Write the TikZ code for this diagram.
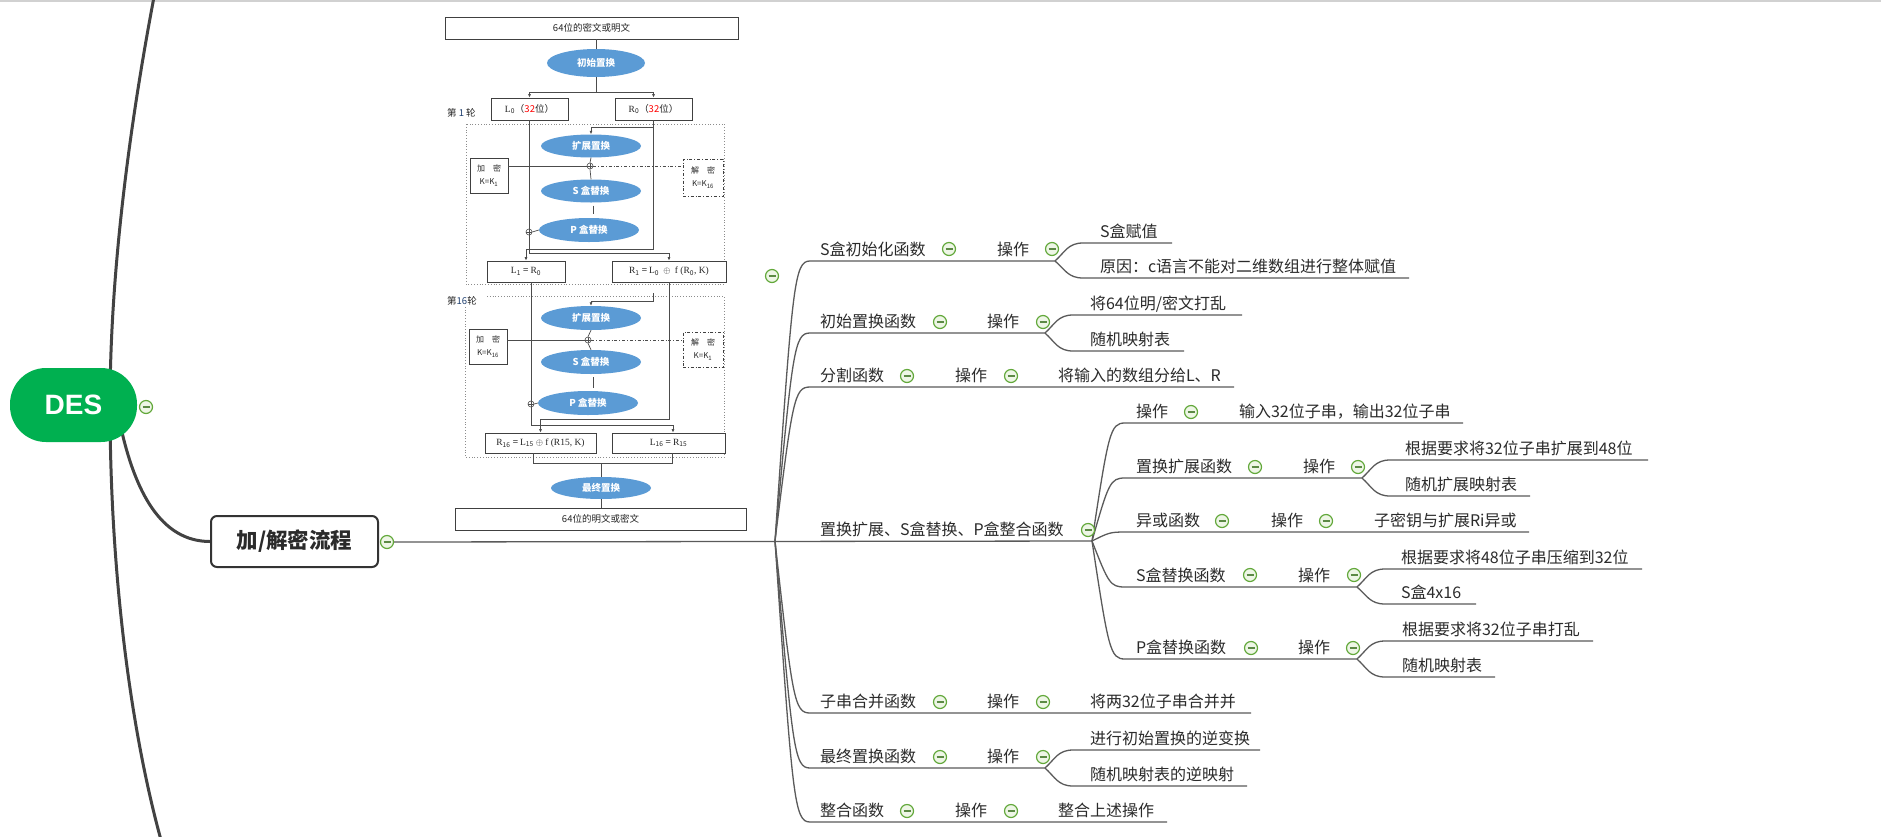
\documentclass[tikz,border=0pt]{standalone}
\usepackage{fontspec}
\setmainfont{Noto Sans CJK SC}
\newfontfamily\desfont{Liberation Sans}
\newfontfamily\serifx{Liberation Serif}
\usetikzlibrary{shapes.geometric,arrows.meta}
\definecolor{linec}{HTML}{5A5A5A}
\definecolor{thickc}{HTML}{424242}
\definecolor{textc}{HTML}{2B2B2B}
\definecolor{desg}{HTML}{00B050}
\definecolor{togc}{HTML}{62A83A}
\definecolor{togf}{HTML}{EEF6E6}
\definecolor{togm}{HTML}{5C8A45}
\definecolor{ellc}{HTML}{5B9BD5}
\definecolor{boxc}{HTML}{333333}
\definecolor{roundc}{HTML}{1F3F6F}
\newcommand\mmbr[5]{%
  \draw[conn] (#1,#2) .. controls ({#1+0.5*#4},{#3+0.08*(#2-#3)}) and ({#1+0.55*#4},#3) .. ({#1+#4},#3) -- (#5,#3);}
\newcommand\mmleaf[4]{%
  \draw[conn] (#1,#2) .. controls ({#1+10},{#2+0.5*(#3-#2)}) and ({#1+13},#3) .. ({#1+28},#3) -- (#4,#3);}
\begin{document}
\begin{tikzpicture}[x=1pt,y=-1pt,
  conn/.style={draw=linec, line width=1.3pt},
  thickconn/.style={draw=thickc, line width=3pt},
  txt/.style={anchor=base west, inner sep=0pt, outer sep=0pt, text=textc, font=\fontsize{16}{19}\selectfont},
  tog/.style={circle, draw=togc, fill=togf, line width=1.2pt, minimum size=13pt, inner sep=0pt,
     path picture={\draw[togm, line width=1.3pt] ([xshift=-3.5pt]path picture bounding box.center) -- ([xshift=3.5pt]path picture bounding box.center);}},
  fbox/.style={draw=black!75, line width=0.7pt, fill=white, inner sep=0pt, text=black!85, font=\fontsize{9.5}{11}\selectfont},
  fell/.style={ellipse, fill=ellc, minimum width=100pt, minimum height=24pt, inner sep=0pt, text=white, font=\fontsize{9.5}{11}\selectfont\bfseries},
  fl/.style={draw=black!70, line width=0.7pt},
  fa/.style={fl, -{Latex[length=3.5pt,width=3pt]}},
  dotbox/.style={draw=black!45, line width=0.8pt, dotted},
  ddbox/.style={fbox, dash dot},
  xorc/.style={circle, draw=black!70, fill=white, line width=0.6pt, minimum size=6pt, inner sep=0pt,
     path picture={\draw[black!70, line width=0.5pt] (path picture bounding box.north) -- (path picture bounding box.south) (path picture bounding box.west) -- (path picture bounding box.east);}},
  lab/.style={anchor=west, inner sep=0pt, font=\fontsize{9.5}{11}\selectfont, text=black!85},
]
\useasboundingbox (0,0) rectangle (1881,836);
\fill[white] (0,0) rectangle (1881,836);
\fill[black!18] (0,0) rectangle (1881,1.5);

% ---------- root and main curves ----------
\draw[thickconn] (154,-3) .. controls (125,150) and (110,290) .. (110,405) .. controls (110,560) and (128,720) .. (161,840);
\coordinate (dsout) at (121,428);
\node[draw=boxc, line width=2pt, rounded corners=6pt, fill=white, minimum width=167pt, minimum height=51pt, inner sep=0pt,
      font=\fontsize{21.5}{24}\selectfont\bfseries, text=textc] (flow) at (294.5,541.5) {加/解密流程};
\draw[thickconn] (dsout) .. controls (135,490) and (160,541.5) .. (flow.west);
\node[fill=desg, rounded corners=36pt, minimum width=127pt, minimum height=74pt, inner sep=0pt, text=white,
      font=\desfont\bfseries\fontsize{28}{30}\selectfont] (des) at (73.5,405) {DES};
\node[tog] (tgdes) at (146,407) {};
\node[tog] (tgflow) at (387,542) {};
\coordinate (J0) at (775,541);
\coordinate (K4) at (1092,541);
\draw[conn] (tgflow.east) -- (K4);

% ---------- level 2 branches ----------
\mmbr{775}{541}{261}{35}{1055}
\mmbr{775}{541}{333}{35}{1045}
\mmbr{775}{541}{387}{35}{1234}
\mmbr{775}{541}{713}{35}{1251}
\mmbr{775}{541}{768}{35}{1045}
\mmbr{775}{541}{822}{35}{1167}
% ---------- level 3 branches ----------
\mmbr{1092}{541}{423}{33}{1463}
\mmbr{1092}{541}{478}{33}{1362}
\mmbr{1092}{541}{532}{33}{1529}
\mmbr{1092}{541}{587}{33}{1357}
\mmbr{1092}{541}{659}{33}{1357}
% ---------- leaf pairs ----------
\mmleaf{1055}{261}{243}{1172}
\mmleaf{1055}{261}{278}{1409}
\mmleaf{1045}{333}{315}{1242}
\mmleaf{1045}{333}{351}{1184}
\mmleaf{1362}{478}{460}{1648}
\mmleaf{1362}{478}{496}{1530}
\mmleaf{1357}{587}{569}{1642}
\mmleaf{1357}{587}{604}{1476}
\mmleaf{1357}{659}{641}{1593}
\mmleaf{1357}{659}{677}{1495}
\mmleaf{1045}{768}{750}{1260}
\mmleaf{1045}{768}{786}{1247}

\node[tog] (tglone) at (772,276) {};

% S盒初始化函数
\node[txt] (a1) at (820,255) {S盒初始化函数};
\node[tog] (a1t) at (949,249) {};
\node[txt] (a1o) at (997,255) {操作};
\node[tog] (a1ot) at (1052,249) {};
\node[txt] (a1l1) at (1100,237) {S盒赋值};
\node[txt] (a1l2) at (1100,272) {原因：c语言不能对二维数组进行整体赋值};
% 初始置换函数
\node[txt] (a2) at (820,327) {初始置换函数};
\node[tog] (a2t) at (940,322) {};
\node[txt] (a2o) at (987,327) {操作};
\node[tog] (a2ot) at (1043,322) {};
\node[txt] (a2l1) at (1090,309) {将64位明/密文打乱};
\node[txt] (a2l2) at (1090,345) {随机映射表};
% 分割函数
\node[txt] (a3) at (820,381) {分割函数};
\node[tog] (a3t) at (907,376) {};
\node[txt] (a3o) at (955,381) {操作};
\node[tog] (a3ot) at (1011,376) {};
\node[txt] (a3l) at (1058,381) {将输入的数组分给L、R};
% 置换扩展、S盒替换、P盒整合函数
\node[txt] (a4) at (820,535) {置换扩展、S盒替换、P盒整合函数};
\node[tog] (a4t) at (1088,530) {};
\node[txt] (b1) at (1136,417) {操作};
\node[tog] (b1t) at (1191,412) {};
\node[txt] (b1l) at (1239,417) {输入32位子串，输出32位子串};
\node[txt] (b2) at (1136,472) {置换扩展函数};
\node[tog] (b2t) at (1255,467) {};
\node[txt] (b2o) at (1303,472) {操作};
\node[tog] (b2ot) at (1358,467) {};
\node[txt] (b2l1) at (1405,454) {根据要求将32位子串扩展到48位};
\node[txt] (b2l2) at (1405,490) {随机扩展映射表};
\node[txt] (b3) at (1136,526) {异或函数};
\node[tog] (b3t) at (1222,521) {};
\node[txt] (b3o) at (1271,526) {操作};
\node[tog] (b3ot) at (1326,521) {};
\node[txt] (b3l) at (1374,526) {子密钥与扩展Ri异或};
\node[txt] (b4) at (1136,581) {S盒替换函数};
\node[tog] (b4t) at (1250,575) {};
\node[txt] (b4o) at (1298,581) {操作};
\node[tog] (b4ot) at (1354,575) {};
\node[txt] (b4l1) at (1401,563) {根据要求将48位子串压缩到32位};
\node[txt] (b4l2) at (1401,598) {S盒4x16};
\node[txt] (b5) at (1136,653) {P盒替换函数};
\node[tog] (b5t) at (1251,648) {};
\node[txt] (b5o) at (1298,653) {操作};
\node[tog] (b5ot) at (1353,648) {};
\node[txt] (b5l1) at (1402,635) {根据要求将32位子串打乱};
\node[txt] (b5l2) at (1402,671) {随机映射表};
% 子串合并函数
\node[txt] (a5) at (820,707) {子串合并函数};
\node[tog] (a5t) at (940,702) {};
\node[txt] (a5o) at (987,707) {操作};
\node[tog] (a5ot) at (1043,702) {};
\node[txt] (a5l) at (1090,707) {将两32位子串合并并};
% 最终置换函数
\node[txt] (a6) at (820,762) {最终置换函数};
\node[tog] (a6t) at (940,757) {};
\node[txt] (a6o) at (987,762) {操作};
\node[tog] (a6ot) at (1043,757) {};
\node[txt] (a6l1) at (1090,744) {进行初始置换的逆变换};
\node[txt] (a6l2) at (1090,780) {随机映射表的逆映射};
% 整合函数
\node[txt] (a7) at (820,816) {整合函数};
\node[tog] (a7t) at (907,811) {};
\node[txt] (a7o) at (955,816) {操作};
\node[tog] (a7ot) at (1011,811) {};
\node[txt] (a7l) at (1058,816) {整合上述操作};

% ---------- DES flow chart ----------
\draw[dotbox] (466,124) rectangle (724,284);
\draw[dotbox] (487,296) -- (724,296) -- (724,457) -- (465,457) -- (465,306);
\node[fbox, minimum width=293pt, minimum height=22pt] (top) at (591.5,28) {64位的密文或明文};
\node[fell, minimum width=98pt, minimum height=28pt] (e0) at (596,63) {初始置换};
\node[fbox, minimum width=77pt, minimum height=22pt] (L0) at (529.5,109) {{\serifx L}\textsubscript{0}（\textcolor{red}{32}位）};
\node[fbox, minimum width=77pt, minimum height=22pt] (R0) at (653.5,109) {{\serifx R}\textsubscript{0}（\textcolor{red}{32}位）};
\node[lab] (lab1) at (447,113) {第 \textcolor{roundc}{1} 轮};
\node[fell, minimum height=23pt] (e1x) at (591,146) {扩展置换};
\node[fbox, minimum width=38pt, minimum height=35pt, align=center, font=\fontsize{8}{13}\selectfont] (k1) at (489,175.5) {加\quad 密\\K=K\textsubscript{1}};
\node[xorc] (x1) at (590,166) {};
\node[ddbox, minimum width=40pt, minimum height=37pt, align=center, font=\fontsize{8}{13}\selectfont] (d1) at (703,177.5) {解\quad 密\\K=K\textsubscript{16}};
\node[fell, minimum height=23pt] (e1s) at (591,191) {S 盒替换};
\node[fell] (e1p) at (589,230) {P 盒替换};
\node[xorc] (p1) at (529,232) {};
\node[fbox, minimum width=78pt, minimum height=21pt] (L1) at (526,271.5) {{\serifx L}\textsubscript{1} = {\serifx R}\textsubscript{0}};
\node[fbox, minimum width=114pt, minimum height=21pt] (R1) at (669,271.5) {{\serifx R}\textsubscript{1} = {\serifx L}\textsubscript{0} \ $\oplus$ \ {\serifx f (R}\textsubscript{0}{\serifx , K)}};
\node[lab] (lab16) at (447,301) {第\textcolor{roundc}{16}轮};
\node[fell] (e16x) at (591,318) {扩展置换};
\node[fbox, minimum width=38pt, minimum height=35pt, align=center, font=\fontsize{8}{13}\selectfont] (k16) at (488,346.5) {加\quad 密\\K=K\textsubscript{16}};
\node[xorc] (x16) at (588,340) {};
\node[ddbox, minimum width=40pt, minimum height=35pt, align=center, font=\fontsize{8}{13}\selectfont] (d16) at (703,349.5) {解\quad 密\\K=K\textsubscript{1}};
\node[fell] (e16s) at (591,362) {S 盒替换};
\node[fell] (e16p) at (588,403) {P 盒替换};
\node[xorc] (p16) at (531,404) {};
\node[fbox, minimum width=111pt, minimum height=20pt] (R16) at (540.5,443) {{\serifx R}\textsubscript{16} = {\serifx L}\textsubscript{15} $\oplus$ {\serifx f (R15, K)}};
\node[fbox, minimum width=113pt, minimum height=20pt] (L16) at (668.5,443) {{\serifx L}\textsubscript{16} = {\serifx R}\textsubscript{15}};
\node[fell, minimum height=22pt] (ef) at (601,488) {最终置换};
\node[fbox, minimum width=291pt, minimum height=22pt] (bot) at (600.5,519) {64位的明文或密文};

% flow connectors
\draw[fl] (e0.north |- top.south) -- (e0.north);
\draw[fl] (e0.south) -- (e0.south |- 0,92) coordinate (s0);
\draw[fl] (L0.north |- s0) -- (R0.north |- s0);
\draw[fa] (L0.north |- s0) -- (L0.north);
\draw[fa] (R0.north |- s0) -- (R0.north);
\draw[fa] (R0.south |- 0,127) -| (e1x.north);
\draw[fl] (p1.north |- L0.south) -- (p1.north);
\draw[fa] (p1.south) -- ++(0,18) -| (R1.north);
\draw[fa] (R0.south) -- ++(0,129) -| (L1.north);
\draw[fl] (e1x.south) -- (x1.north);
\draw[fl] (x1.south) -- (e1s.north);
\draw[fl] (k1.east |- x1.west) -- (x1.west);
\draw[fl, dash dot] (x1.east) -- (d1.west |- x1.east);
\draw[fl, shorten <=3pt, shorten >=4pt] ([xshift=2pt]e1s.south) -- ([xshift=2pt]e1s.south |- e1p.north);
\draw[fl] (e1p.west) -- (p1.east);
% round 16
\coordinate (stub) at (653,293);
\draw[fa] (stub) -- (653,301) -| (e16x.north);
\draw[fl] (p16.north |- L1.south) -- (p16.north);
\draw[fa] (p16.south) -- ++(0,18) -| ([xshift=4.5pt]L16.north);
\draw[fa] (R1.south) -- ++(0,137) -| (R16.north);
\draw[fl] (e16x.south) -- (x16.north);
\draw[fl] (x16.south) -- (e16s.north);
\draw[fl] (k16.east |- x16.west) -- (x16.west);
\draw[fl, dash dot] (x16.east) -- (d16.west |- x16.east);
\draw[fl, shorten <=3pt, shorten >=3pt] ([xshift=2pt]e16s.south) -- ([xshift=2pt]e16s.south |- e16p.north);
\draw[fl] (e16p.west) -- (p16.east);
\draw[fl] ([xshift=-7pt]R16.south) -- ++(0,10) -| ([xshift=3.5pt]L16.south);
\draw[fl] (ef.north |- 0,463) -- (ef.north);
\draw[fl] (ef.south) -- (ef.south |- bot.north);
\end{tikzpicture}
\end{document}
